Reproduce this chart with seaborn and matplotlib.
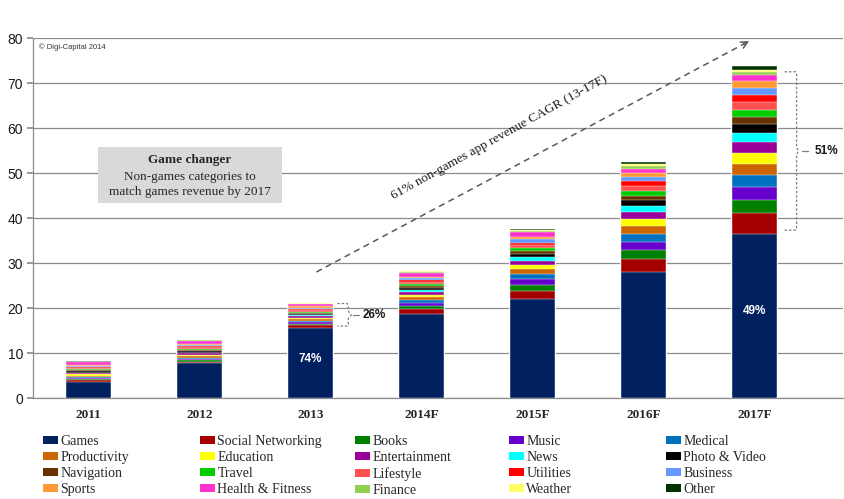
import numpy as np
import pandas as pd
import matplotlib
matplotlib.use("Agg")
import matplotlib.pyplot as plt
import seaborn as sns
from matplotlib.patches import Rectangle, Patch


# -------------------------
# Data (revenue, $bn)
# -------------------------

years = ["2011", "2012", "2013", "2014F", "2015F", "2016F", "2017F"]

categories = ["Games", "Social Networking", "Books", "Music", "Medical",
              "Productivity", "Education", "Entertainment", "News", "Photo & Video",
              "Navigation", "Travel", "Lifestyle", "Utilities", "Business",
              "Sports", "Health & Fitness", "Finance", "Weather", "Other"]

colors = ["#002060", "#a50000", "#008000", "#6600cc", "#0070c0",
          "#cc6600", "#ffff00", "#990099", "#00ffff", "#000000",
          "#663300", "#00cc00", "#ff5050", "#ff0000", "#6699ff",
          "#ff9933", "#ff33cc", "#92d050", "#ffff66", "#003300"]

games = [3.6, 7.7, 15.6, 18.7, 22.0, 27.9, 36.4]
social_networking = [0.3, 0.4, 0.6, 1.1, 1.8, 3.1, 4.8]
books = [0.25, 0.3, 0.35, 0.7, 1.3, 1.9, 2.8]
music = [0.3, 0.3, 0.35, 0.7, 1.3, 1.8, 2.8]
medical = [0.25, 0.3, 0.3, 0.6, 1.1, 1.8, 2.8]
productivity = [0.3, 0.3, 0.35, 0.6, 1.1, 1.7, 2.4]
education = [0.3, 0.35, 0.3, 0.6, 1.0, 1.6, 2.5]
entertainment = [0.2, 0.25, 0.3, 0.5, 0.8, 1.5, 2.3]
news = [0.15, 0.2, 0.25, 0.5, 0.9, 1.4, 2.2]
photo_video = [0.25, 0.3, 0.3, 0.5, 0.8, 1.2, 1.8]
navigation = [0.3, 0.3, 0.25, 0.4, 0.6, 1.1, 1.7]
travel = [0.2, 0.2, 0.25, 0.4, 0.7, 1.1, 1.6]
lifestyle = [0.3, 0.35, 0.35, 0.5, 0.5, 1.1, 1.7]
utilities = [0.15, 0.2, 0.25, 0.4, 0.6, 1.0, 1.5]
business = [0.2, 0.25, 0.25, 0.4, 0.8, 1.0, 1.5]
sports = [0.25, 0.3, 0.3, 0.4, 0.5, 0.9, 1.7]
health_fitness = [0.6, 0.7, 0.55, 0.8, 1.0, 0.9, 1.3]
finance = [0.1, 0.1, 0.1, 0.2, 0.3, 0.5, 0.6]
weather = [0.1, 0.1, 0.1, 0.2, 0.3, 0.5, 0.5]
other = [0.1, 0.1, 0.1, 0.1, 0.2, 0.4, 0.8]

series = [games, social_networking, books, music, medical, productivity,
          education, entertainment, news, photo_video, navigation, travel,
          lifestyle, utilities, business, sports, health_fitness, finance,
          weather, other]

df = pd.DataFrame(dict(zip(categories, series)), index=years)
cum = df.cumsum(axis=1)
totals = cum["Other"]

GRID = "#8c8c8c"
SERIF = "Liberation Serif"
SANS = "Liberation Sans"


def brace(ax, x0, xv, xm, top, bot, xd0, xd1):
    mid = (top + bot) / 2
    c = 0.4
    d = 0.8
    ax.plot([x0, xv - 0.01, xv, xv, xm, xv, xv, xv - 0.01, x0],
            [top, top, top - c, mid + d, mid, mid - d, bot + c, bot, bot],
            color="#7f7f7f", lw=0.9, ls=(0, (2, 1.5)), zorder=5)
    ax.plot([xd0, xd1], [mid, mid], color="#7f7f7f", lw=0.9, zorder=5)
    return mid


# -------------------------
# Plot
# -------------------------

sns.set_theme(style="white")
plt.rcParams["font.family"] = [SANS, "DejaVu Sans"]

fig = plt.figure(figsize=(8.45, 4.99), dpi=100)
ax = fig.add_axes([0.039, 0.2024, 0.959, 0.7214])

# draw cumulative bars from top of stack down so each segment shows
for cat, col in reversed(list(zip(categories, colors))):
    sns.barplot(x=years, y=cum[cat].values, color=col, saturation=1,
                width=0.4, edgecolor="white", linewidth=0.3, ax=ax, zorder=3)

ax.set_xlim(-0.5, 6.8)
ax.set_ylim(0, 80)
ax.set_yticks(range(0, 81, 10))
ax.set_xlabel("")
ax.set_ylabel("")
ax.yaxis.grid(True, color=GRID, lw=0.9, zorder=0)
ax.set_axisbelow(True)
for side in ["top", "right"]:
    ax.spines[side].set_visible(False)
for side in ["left", "bottom"]:
    ax.spines[side].set_color(GRID)
    ax.spines[side].set_linewidth(0.9)
ax.tick_params(axis="y", left=True, length=4, color=GRID, labelsize=10,
               pad=3, labelcolor="#1a1a1a")
ax.tick_params(axis="x", bottom=False, pad=2)
for lab in ax.get_xticklabels():
    lab.set_fontfamily(SERIF)
    lab.set_fontweight("bold")
    lab.set_fontsize(9.5)

ax.text(0.007, 0.985, "\u00a9 Digi-Capital 2014", transform=ax.transAxes,
        ha="left", va="top", fontsize=5.5, color="#333333")

# grey call-out box
ax.add_patch(Rectangle((0.084, 43.3), 1.664, 12.5, facecolor="#d9d9d9",
                       edgecolor="none", zorder=4))
ax.text(0.915, 52.9, "Game changer", ha="center", va="center",
        fontfamily=SERIF, fontweight="bold", fontsize=9.5, zorder=5)
ax.text(0.915, 49.2, "Non-games categories to", ha="center", va="center",
        fontfamily=SERIF, fontsize=9.5, zorder=5)
ax.text(0.915, 45.8, "match games revenue by 2017", ha="center", va="center",
        fontfamily=SERIF, fontsize=9.5, zorder=5)

# CAGR arrow
x_a, y_a, x_b, y_b = 2.053, 28.0, 5.974, 79.6
ax.plot([x_a, x_b - 0.04], [y_a, y_b - 0.04 * (y_b - y_a) / (x_b - x_a)],
        color="#595959", lw=1.1, ls=(0, (4, 3)), zorder=5)
ax.annotate("", xy=(x_b, y_b),
            xytext=(x_b - 0.1, y_b - 0.1 * (y_b - y_a) / (x_b - x_a)),
            arrowprops=dict(arrowstyle="->", color="#595959", lw=1.1,
                            mutation_scale=12), zorder=5)
ax.text(3.70, 57.9, "61% non-games app revenue CAGR (13-17F)", ha="center",
        va="center", rotation=29, rotation_mode="anchor",
        fontfamily=SERIF, fontsize=9.5, color="#1a1a1a")

# share labels
share_13 = df.loc["2013", "Games"] / totals["2013"]
share_17 = df.loc["2017F", "Games"] / totals["2017F"]

ax.text(2, 8.7, f"{round(share_13 * 100)}%", ha="center", va="center",
        color="white", fontweight="bold", fontsize=8.5, zorder=6)
ax.text(6, 19.3, f"{round(share_17 * 100)}%", ha="center", va="center",
        color="white", fontweight="bold", fontsize=8.5, zorder=6)

mid = brace(ax, 2.242, 2.341, 2.368, totals["2013"] - 0.2,
            df.loc["2013", "Games"] + 0.4, 2.386, 2.44)
ax.text(2.47, mid, f"{100 - round(share_13 * 100)}%", ha="left",
        va="center", fontweight="bold", fontsize=8.5, color="#1a1a1a")

mid = brace(ax, 6.271, 6.379, 6.397, totals["2017F"] - 1.2,
            df.loc["2017F", "Games"] + 0.9, 6.424, 6.478)
ax.text(6.541, mid, f"{100 - round(share_17 * 100)}%", ha="left",
        va="center", fontweight="bold", fontsize=8.5, color="#1a1a1a")

# legend: 5 columns placed like the original, row-major order
col_x = [43, 200, 355, 509, 666]
for c in range(5):
    idx = [r * 5 + c for r in range(4)]
    handles = [Patch(facecolor=colors[i], edgecolor="none") for i in idx]
    labels = [categories[i] for i in idx]
    fig.legend(handles, labels, loc="upper left",
               bbox_to_anchor=(col_x[c] / 845, 1 - 435 / 499),
               frameon=False, prop={"family": SERIF, "size": 10},
               handlelength=1.1, handleheight=0.55, handletextpad=0.15,
               labelspacing=0.22, borderpad=0, borderaxespad=0)

fig.savefig("out.png", dpi=100)
